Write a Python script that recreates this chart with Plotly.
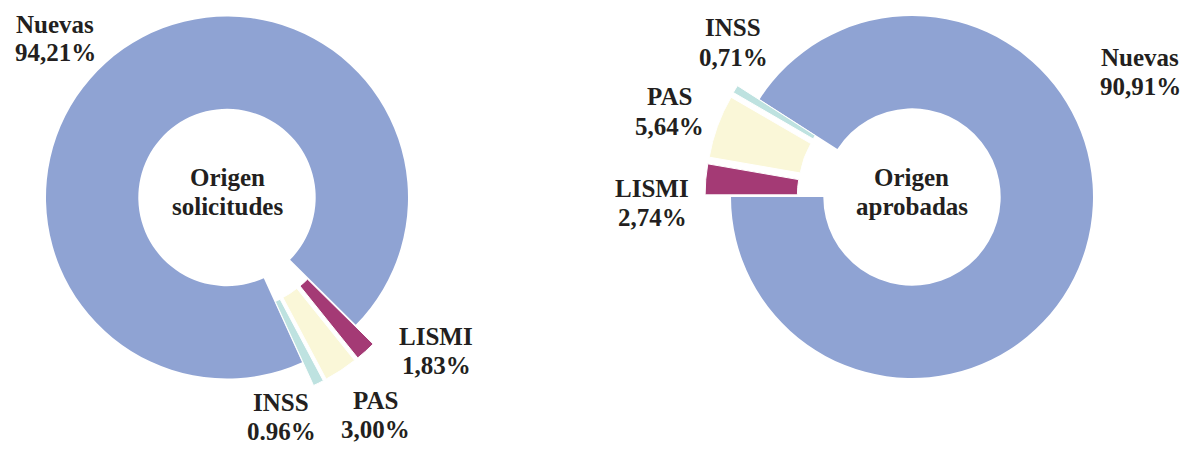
import math
import plotly.graph_objects as go

# Data
categories = ["Nuevas", "LISMI", "PAS", "INSS"]
solicitudes = [94.21, 1.83, 3.00, 0.96]
aprobadas = [90.91, 2.74, 5.64, 0.71]
center_solicitudes = ["Origen", "solicitudes"]
center_aprobadas = ["Origen", "aprobadas"]
decimal_solicitudes = [",", ",", ",", "."]
decimal_aprobadas = [",", ",", ",", ","]

# Styling
colors = ["#8FA3D3", "#A43A75", "#FAF7D8", "#BEE2E0"]
TEXT_COLOR = "#231F20"
FONT = "Liberation Serif"
FONT_SIZE = 25
LINE_GAP = 29

W, H = 1188, 450
R = 181            # outer radius in px
HOLE = 0.49
EXPLODE = 26       # px that small slices are pushed out

charts = [
    dict(values=solicitudes, center=center_solicitudes, decimals=decimal_solicitudes,
         cx=227, cy=197.5, rotation=155.5,
         label_pos=[(55, 24), (436, 336), (375, 400), (281, 402)]),
    dict(values=aprobadas, center=center_aprobadas, decimals=decimal_aprobadas,
         cx=912, cy=197, rotation=-57.3,
         label_pos=[(1140, 57), (652, 188), (669, 97), (733, 28)]),
]


def domain_for(cx, cy):
    return dict(x=[(cx - R) / W, (cx + R) / W],
                y=[1 - (cy + R) / H, 1 - (cy - R) / H])


fig = go.Figure()
annotations = []


def add_text(px, py, text, size=FONT_SIZE):
    annotations.append(dict(
        x=px / W, y=1 - py / H, xref="paper", yref="paper",
        text=text, showarrow=False, xanchor="center", yanchor="middle",
        font=dict(family=FONT, size=size, color=TEXT_COLOR),
    ))


for ch in charts:
    vals = ch["values"]
    total = sum(vals)
    n = len(vals)

    # main ring: only the large slice is visible
    fig.add_trace(go.Pie(
        labels=categories, values=vals, sort=False, direction="clockwise",
        rotation=ch["rotation"], hole=HOLE, textinfo="none",
        marker=dict(colors=[colors[0]] + ["rgba(0,0,0,0)"] * (n - 1),
                    line=dict(width=0)),
        domain=domain_for(ch["cx"], ch["cy"]), showlegend=False,
        hoverinfo="label+percent",
    ))

    # exploded small slices, each pushed out along its own bisector
    start = ch["rotation"] + vals[0] / total * 360
    for i in range(1, n):
        span = vals[i] / total * 360
        mid = math.radians(start + span / 2)
        dx = EXPLODE * math.sin(mid)
        dy = -EXPLODE * math.cos(mid)
        cols = ["rgba(0,0,0,0)"] * n
        cols[i] = colors[i]
        widths = [0] * n
        widths[i] = 1
        fig.add_trace(go.Pie(
            labels=categories, values=vals, sort=False, direction="clockwise",
            rotation=ch["rotation"], hole=HOLE, textinfo="none",
            marker=dict(colors=cols, line=dict(color="white", width=widths)),
            domain=domain_for(ch["cx"] + dx, ch["cy"] + dy), showlegend=False,
            hoverinfo="label+percent",
        ))
        start += span

    # category labels with their values
    for i, (px, py) in enumerate(ch["label_pos"]):
        value_txt = f"{vals[i]:.2f}".replace(".", ch["decimals"][i]) + "%"
        add_text(px, py, f"<b>{categories[i]}</b>")
        add_text(px, py + LINE_GAP, f"<b>{value_txt}</b>")

    # title in the hole
    add_text(ch["cx"], ch["cy"] - 20, f"<b>{ch['center'][0]}</b>", 25)
    add_text(ch["cx"], ch["cy"] + 9, f"<b>{ch['center'][1]}</b>", 25)

fig.update_layout(
    width=W, height=H,
    margin=dict(l=0, r=0, t=0, b=0),
    paper_bgcolor="white", plot_bgcolor="white",
    annotations=annotations,
)

fig.write_html("out.html")
